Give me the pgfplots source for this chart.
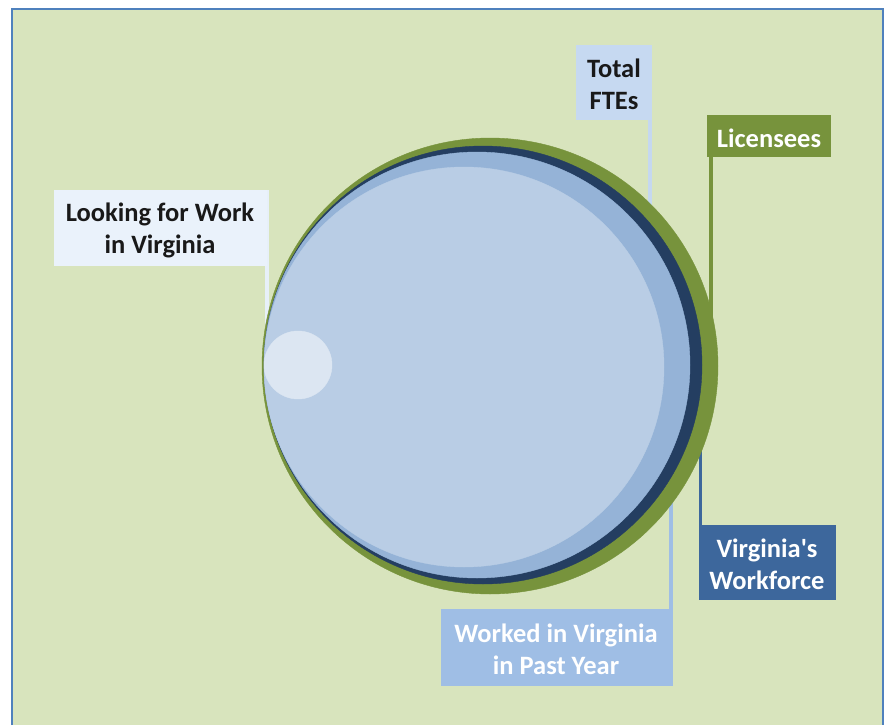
\documentclass[border=0pt]{standalone}
\usepackage{pgfplots}
\pgfplotsset{compat=1.18}
\usepackage{fontspec}
\setmainfont{Carlito}[Ligatures=TeXOff]
\definecolor{bg}{HTML}{D8E4BD}
\definecolor{frame}{HTML}{4F81BD}
\definecolor{lic}{HTML}{77933C}
\definecolor{navy}{HTML}{243E61}
\definecolor{med}{HTML}{95B3D7}
\definecolor{light}{HTML}{B9CDE5}
\definecolor{look}{HTML}{DCE6F2}
\definecolor{ftebox}{HTML}{C6D9F1}
\definecolor{lookbox}{HTML}{EAF2FB}
\definecolor{wfbox}{HTML}{3D679C}
\definecolor{wkbox}{HTML}{9FBEE5}
\tikzset{lbl/.style={font=\fontsize{26.5}{32}\selectfont\bfseries,align=center,inner sep=0pt}}
\begin{document}
\begin{tikzpicture}
\begin{axis}[width=887pt,height=725pt,scale only axis,
  xmin=0,xmax=887,ymin=0,ymax=725,y dir=reverse,
  axis lines=none,clip=false]
% page background and panel
\fill[white] (axis cs:0,0) rectangle (axis cs:887,725);
\fill[bg] (axis cs:12,9) rectangle (axis cs:883,725);
\draw[frame,line width=2pt] (axis cs:12,725) -- (axis cs:12,9) -- (axis cs:883,9) -- (axis cs:883,725);
% circles (centre x, centre y; radius as mark size)
\addplot[only marks,mark=*,mark size=228,color=lic] coordinates {(490,366)};
\addplot[only marks,mark=*,mark size=219,color=navy] coordinates {(483,365)};
\addplot[only marks,mark=*,mark size=213,color=med] coordinates {(477,365)};
\addplot[only marks,mark=*,mark size=200,color=light] coordinates {(464,367)};
\addplot[only marks,mark=*,mark size=34,color=look] coordinates {(298,365)};
% leader lines
\addplot[ftebox!90!light,line width=4pt] coordinates {(650,45) (650,300)};
\addplot[lic,line width=4pt] coordinates {(711,115) (711,345)};
\addplot[lookbox!80!look,line width=4pt] coordinates {(267,190) (267,343)};
\addplot[wfbox,line width=3pt] coordinates {(700,360) (700,600)};
\addplot[wkbox,line width=4pt] coordinates {(671,458) (671,686)};
% label boxes
\fill[ftebox] (axis cs:576,45) rectangle (axis cs:652,120);
\fill[lic] (axis cs:707,115) rectangle (axis cs:831,157);
\fill[lookbox] (axis cs:54,190) rectangle (axis cs:267,266);
\fill[wfbox] (axis cs:699,525) rectangle (axis cs:836,600);
\fill[wkbox] (axis cs:441,609) rectangle (axis cs:673,686);
\node[lbl,text=black!90] at (axis cs:614,84) {Total\\FTEs};
\node[lbl,text=white] at (axis cs:769,138) {Licensees};
\node[lbl,text=black!90] at (axis cs:160,230) {Looking for Work\\in Virginia};
\node[lbl,text=white] at (axis cs:767,564) {Virginia's\\Workforce};
\node[lbl,text=white] at (axis cs:556,649) {Worked in Virginia\\in Past Year};
\end{axis}
\end{tikzpicture}
\end{document}
